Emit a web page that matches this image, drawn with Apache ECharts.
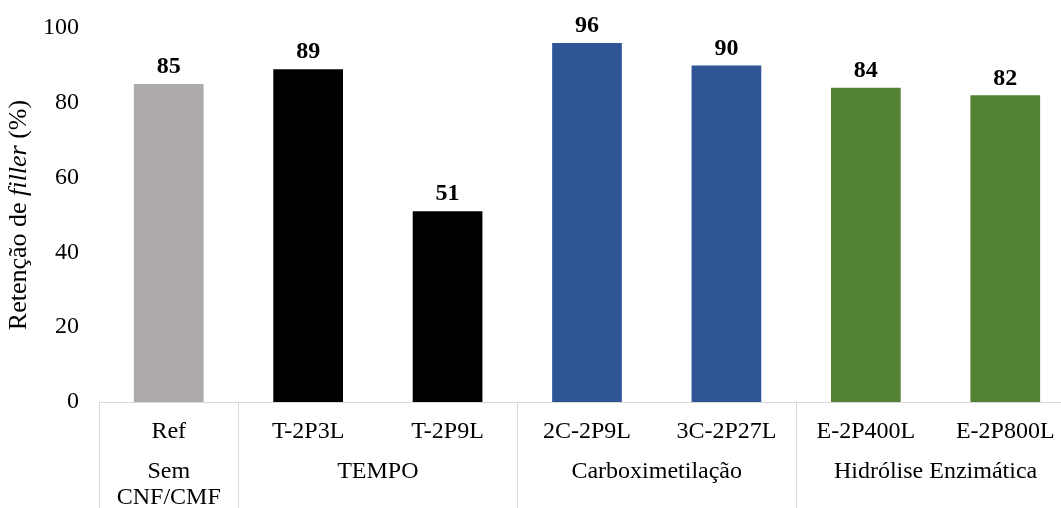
<!DOCTYPE html>
<html><head><meta charset="utf-8">
<script src="https://cdn.jsdelivr.net/npm/echarts@6/dist/echarts.min.js"></script>
<style>html,body{margin:0;padding:0;background:#fff}#c{width:1061px;height:508px}</style>
</head><body><div id="c"></div>
<script>
const categories = ['Ref','T-2P3L','T-2P9L','2C-2P9L','3C-2P27L','E-2P400L','E-2P800L'];
const values = [85, 89, 51, 96, 90, 84, 82];
const barColors = ['#AEAAAA','#000000','#000000','#2F5597','#2F5597','#548235','#548235'];
const groups = [
  {name: 'Sem\nCNF/CMF', start: 0, size: 1},
  {name: 'TEMPO', start: 1, size: 2},
  {name: 'Carboximetilação', start: 3, size: 2},
  {name: 'Hidrólise Enzimática', start: 5, size: 2}
];
const yTicks = {min: 0, max: 100, interval: 20};

const FONT = '"Liberation Serif", "Times New Roman", serif';
const FS = 24;
const halfSlots = [];
for (let j = 0; j <= categories.length * 2; j++) halfSlots.push('');
groups.forEach(g => { halfSlots[g.start * 2 + g.size] = g.name; });
const boundaryIdx = groups.map(g => g.start);

const chart = echarts.init(document.getElementById('c'), null, {renderer: 'canvas'});
chart.setOption({
  animation: false,
  backgroundColor: '#fff',
  grid: {left: 99, right: -14, top: 28, bottom: 106, containLabel: false, outerBoundsMode: 'none'},
  xAxis: [{
    type: 'category',
    data: categories,
    boundaryGap: true,
    axisLine: {show: true, lineStyle: {color: '#D9D9D9', width: 1}},
    axisTick: {show: true, length: 110, lineStyle: {color: '#D9D9D9', width: 1},
      interval: (i) => boundaryIdx.includes(i)},
    axisLabel: {interval: 0, margin: 17, color: '#000', fontFamily: FONT, fontSize: FS, lineHeight: 26}
  }, {
    type: 'category',
    data: halfSlots,
    boundaryGap: false,
    position: 'bottom',
    axisLine: {show: false},
    axisTick: {show: false},
    axisLabel: {interval: 0, margin: 57, color: '#000', fontFamily: FONT, fontSize: FS, lineHeight: 26}
  }],
  yAxis: {
    type: 'value',
    min: yTicks.min, max: yTicks.max, interval: yTicks.interval,
    axisLine: {show: false}, axisTick: {show: false}, splitLine: {show: false},
    axisLabel: {margin: 20, color: '#000', fontFamily: FONT, fontSize: FS},
    name: '{a|Retenção de }{b|filler}{a| (%)}',
    nameLocation: 'middle', nameGap: 64, nameRotate: 90,
    nameTextStyle: {
      rich: {
        a: {fontFamily: FONT, fontSize: 26, color: '#000'},
        b: {fontFamily: FONT, fontSize: 26, color: '#000', fontStyle: 'italic'}
      }
    }
  },
  series: [{
    type: 'bar',
    xAxisIndex: 0,
    barWidth: '50%',
    data: values.map((v, i) => ({value: v, itemStyle: {color: barColors[i]}})),
    label: {show: true, position: 'top', distance: 5, color: '#000', fontFamily: FONT, fontSize: FS, fontWeight: 'bold'}
  }]
});
</script></body></html>
